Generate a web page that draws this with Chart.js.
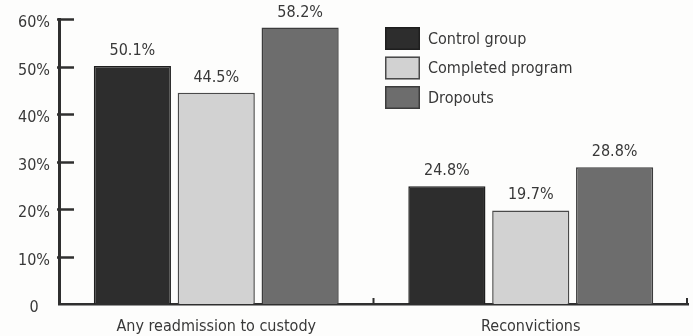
<!DOCTYPE html>
<html>
<head>
<meta charset="utf-8">
<script src="https://cdn.jsdelivr.net/npm/chart.js@4/dist/chart.umd.min.js"></script>
<style>
  html, body { margin: 0; padding: 0; background: #fdfdfc; }
  #wrap { width: 693px; height: 336px; position: relative; }
</style>
</head>
<body>
<div id="wrap"><canvas id="c" width="693" height="336"></canvas></div>
<script>
// Outcomes by group, in percent
const categories = ['Any readmission to custody', 'Reconvictions'];
const seriesNames = ['Control group', 'Completed program', 'Dropouts'];
const controlGroup = [50.1, 24.8];
const completedProgram = [44.5, 19.7];
const dropouts = [58.2, 28.8];
const yTicks = [0, 10, 20, 30, 40, 50, 60];

const FONT = "'Liberation Sans Narrow', 'DejaVu Sans Condensed', 'Arial Narrow', sans-serif";
const INK = '#383838';
const AXIS = '#2f2f2f';

// Short tick marks pointing into the plot, plus category separators on the x axis
const innerTicks = {
  id: 'innerTicks',
  afterDatasetsDraw(chart) {
    const { ctx, scales: { x, y } } = chart;
    ctx.save();
    ctx.strokeStyle = AXIS;
    ctx.lineWidth = 2.5;
    ctx.lineCap = 'butt';
    y.ticks.forEach(t => {
      if (t.value === 0) return;
      const py = Math.round(y.getPixelForValue(t.value)) + 0.5;
      ctx.beginPath();
      ctx.moveTo(x.left - 2, py);
      ctx.lineTo(x.left + 15, py);
      ctx.stroke();
    });
    ctx.lineWidth = 2;
    const n = chart.data.labels.length;
    for (let i = 0; i < n; i++) {
      const edge = i < n - 1
        ? (x.getPixelForValue(i) + x.getPixelForValue(i + 1)) / 2
        : x.right - 1;
      ctx.beginPath();
      ctx.moveTo(edge, y.bottom);
      ctx.lineTo(edge, y.bottom - 6);
      ctx.stroke();
    }
    ctx.restore();
  }
};

// Value printed above each bar
const valueLabels = {
  id: 'valueLabels',
  afterDatasetsDraw(chart) {
    const { ctx } = chart;
    ctx.save();
    ctx.font = '16px ' + FONT;
    ctx.fillStyle = INK;
    ctx.textAlign = 'center';
    ctx.textBaseline = 'alphabetic';
    chart.data.datasets.forEach((ds, di) => {
      chart.getDatasetMeta(di).data.forEach((bar, i) => {
        ctx.fillText(ds.data[i].toFixed(1) + '%', bar.x, bar.y - 11);
      });
    });
    ctx.restore();
  }
};

// Legend block at the upper right of the plot
const boxLegend = {
  id: 'boxLegend',
  afterDraw(chart) {
    const { ctx } = chart;
    ctx.save();
    ctx.font = '16px ' + FONT;
    ctx.textBaseline = 'middle';
    ctx.textAlign = 'left';
    chart.data.datasets.forEach((ds, i) => {
      const bx = 385, by = 27 + i * 29.5, bw = 35, bh = 23;
      ctx.fillStyle = ds.backgroundColor;
      ctx.fillRect(bx, by, bw, bh);
      ctx.strokeStyle = ds.borderColor;
      ctx.lineWidth = 1.5;
      ctx.strokeRect(bx + 0.75, by + 0.75, bw - 1.5, bh - 1.5);
      ctx.fillStyle = INK;
      ctx.fillText(ds.label, 428, by + bh / 2 + 1);
    });
    ctx.restore();
  }
};

new Chart(document.getElementById('c'), {
  type: 'bar',
  data: {
    labels: categories,
    datasets: [
      { label: seriesNames[0], data: controlGroup, backgroundColor: '#2d2d2d', borderColor: '#1e1e1e', borderWidth: 1.5 },
      { label: seriesNames[1], data: completedProgram, backgroundColor: '#d2d2d2', borderColor: '#4a4a4a', borderWidth: 1.5 },
      { label: seriesNames[2], data: dropouts, backgroundColor: '#6d6d6d', borderColor: '#3c3c3c', borderWidth: 1.5 }
    ]
  },
  options: {
    responsive: false,
    animation: false,
    layout: { padding: { top: 19, right: 5, left: 0, bottom: 0 } },
    datasets: { bar: { categoryPercentage: 0.8, barPercentage: 0.92 } },
    plugins: {
      legend: { display: false },
      tooltip: { enabled: false }
    },
    scales: {
      x: {
        grid: { display: false, drawTicks: false },
        border: { display: true, color: AXIS, width: 2.5 },
        ticks: { color: INK, font: { family: FONT, size: 16 }, padding: 13, maxRotation: 0 },
        afterFit(scale) { scale.height = 32; }
      },
      y: {
        min: 0,
        max: 60,
        afterBuildTicks(scale) { scale.ticks = yTicks.map(v => ({ value: v })); },
        grid: { display: false, drawTicks: false },
        border: { display: true, color: AXIS, width: 3 },
        ticks: {
          color: INK,
          font: { family: FONT, size: 16 },
          padding: 9,
          crossAlign: 'center',
          labelOffset: 4,
          callback: v => (v === 0 ? '0' : v + '%')
        },
        afterFit(scale) { scale.width = 59; }
      }
    }
  },
  plugins: [innerTicks, valueLabels, boxLegend]
});
</script>
</body>
</html>
